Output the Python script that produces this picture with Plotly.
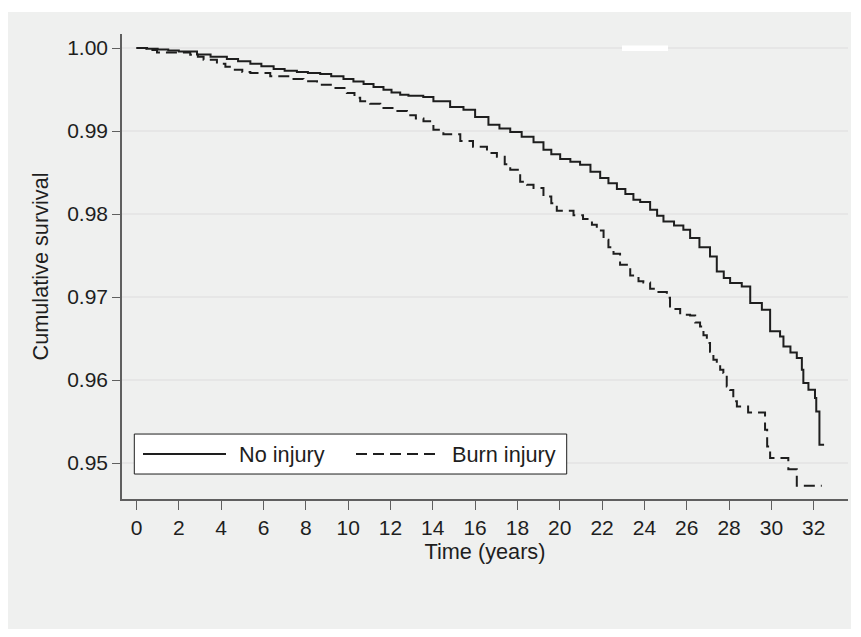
import plotly.graph_objects as go

# ---------------- data ----------------
time_no_injury = [0, 0.5, 1.0, 1.5, 2.0, 2.86, 3.5, 4.27, 4.8, 5.38, 5.9, 6.48, 7.0, 7.58, 8.1,
                  8.68, 9.2, 9.78, 10.25, 10.73, 11.2, 11.67, 12.05, 12.46, 12.85, 13.55, 14.03,
                  14.82, 15.45, 16.0, 16.63, 17.15, 17.66, 18.2, 18.76, 19.23, 19.6, 20.02, 20.5,
                  20.96, 21.45, 21.91, 22.3, 22.7, 23.1, 23.48, 23.8, 24.27, 24.6, 24.9, 25.4,
                  25.84, 26.16, 26.6, 27.1, 27.42, 27.75, 28.05, 28.6, 29.0, 29.55, 29.94, 30.41,
                  30.57, 30.9, 31.2, 31.44, 31.51, 31.75, 32.06, 32.12, 32.27, 32.49]
surv_no_injury = [1.0, 0.99992, 0.99982, 0.99970, 0.99958, 0.99922, 0.99895, 0.99867, 0.99840,
                  0.99811, 0.99780, 0.99747, 0.99725, 0.99711, 0.99700, 0.99687, 0.99660, 0.99627,
                  0.99597, 0.99566, 0.99530, 0.99498, 0.99465, 0.99437, 0.99425, 0.99410, 0.99357,
                  0.99289, 0.99257, 0.99170, 0.99076, 0.99030, 0.98988, 0.98930, 0.98863, 0.98775,
                  0.98720, 0.98663, 0.98630, 0.98594, 0.98510, 0.98434, 0.98370, 0.98300, 0.98240,
                  0.98172, 0.98145, 0.98052, 0.97980, 0.97911, 0.97860, 0.97811, 0.97711, 0.97600,
                  0.97489, 0.97308, 0.97230, 0.97169, 0.97128, 0.96928, 0.96847, 0.96586, 0.96525,
                  0.96405, 0.96330, 0.96265, 0.96124, 0.95964, 0.95883, 0.95783, 0.95622, 0.95221,
                  0.95221]

time_burn = [0, 0.45, 0.97, 2.54, 2.9, 3.17, 3.8, 4.2, 4.59, 5.0, 5.38, 6.32, 7.27, 7.89, 8.53,
             9.31, 9.94, 10.3, 10.57, 11.04, 11.52, 12.15, 12.78, 13.2, 13.56, 14.03, 14.5, 15.3,
             15.9, 16.56, 17.03, 17.4, 17.66, 18.13, 18.45, 18.76, 19.23, 19.6, 19.86, 20.65,
             21.1, 21.52, 21.75, 22.07, 22.3, 22.54, 22.85, 23.33, 23.72, 23.95, 24.27, 24.59,
             25.06, 25.21, 25.69, 26.16, 26.4, 26.63, 26.79, 26.95, 27.1, 27.26, 27.42, 27.58,
             27.73, 27.89, 28.05, 28.2, 28.37, 28.9, 29.70, 29.80, 29.94, 30.8, 31.2, 32.38]
surv_burn = [1.0, 0.99975, 0.99945, 0.99920, 0.99895, 0.99859, 0.99811, 0.99775, 0.99739,
             0.99712, 0.99699, 0.99660, 0.99627, 0.99598, 0.99558, 0.99518, 0.99458, 0.99400,
             0.99357, 0.99329, 0.99277, 0.99240, 0.99190, 0.99150, 0.99116, 0.99016, 0.98960,
             0.98880, 0.98810, 0.98735, 0.98690, 0.98600, 0.98534, 0.98390, 0.98353, 0.98313,
             0.98212, 0.98130, 0.98040, 0.97985, 0.97940, 0.97871, 0.97800, 0.97690, 0.97600,
             0.97520, 0.97390, 0.97260, 0.97190, 0.97176, 0.97100, 0.97060, 0.96990, 0.96855,
             0.96787, 0.96776, 0.96694, 0.96646, 0.96540, 0.96446, 0.96340, 0.96245, 0.96180,
             0.96124, 0.96084, 0.95923, 0.95880, 0.95743, 0.95682, 0.95609, 0.95400, 0.95200,
             0.95060, 0.94925, 0.94727, 0.94727]

x_ticks = list(range(0, 33, 2))
y_ticks = [0.95, 0.96, 0.97, 0.98, 0.99, 1.00]
series_names = ["No injury", "Burn injury"]
x_title = "Time (years)"
y_title = "Cumulative survival"

# ---------------- layout helpers ----------------
# The page body has an 8 px default margin, so the figure starts at (8, 8).
OFF = 8
W, H = 845, 621
PL, PT, PR, PB = 122, 34, 848, 499.3          # plot area in page pixels
L, T = PL - OFF, PT - OFF
PW, PH = PR - PL, PB - PT
R = W - L - PW
B = H - T - PH
FONT = "Liberation Sans, Arial, Helvetica, sans-serif"
INK = "#1e1e1e"
AXIS = "#5f5f5f"
TICK_SIZE = 21
TEXT_SIZE = 21.7


def px(x):
    """page x pixel -> paper x"""
    return (x - PL) / PW


def py(y):
    """page y pixel -> paper y"""
    return (PB - y) / PH


DASH = "11px,6px"

fig = go.Figure()
fig.add_trace(go.Scatter(x=time_no_injury, y=surv_no_injury, mode="lines", name=series_names[0],
                         line=dict(shape="hv", color=INK, width=2), showlegend=False))
fig.add_trace(go.Scatter(x=time_burn, y=surv_burn, mode="lines", name=series_names[1],
                         line=dict(shape="hv", color=INK, width=2, dash=DASH), showlegend=False))

shapes = [
    # grey outer panel
    dict(type="rect", xref="paper", yref="paper", x0=px(8), x1=px(851), y0=py(640), y1=py(12),
         fillcolor="#eff0ef", line=dict(width=0), layer="below"),
    # small gap in top gridline
    dict(type="rect", xref="paper", yref="paper", x0=px(622), x1=px(668), y0=py(51), y1=py(45.5),
         fillcolor="white", line=dict(width=0), layer="above"),
    # legend box
    dict(type="rect", xref="paper", yref="paper", x0=px(134.3), x1=px(566.7), y0=py(474.3),
         y1=py(434.3), fillcolor="white", line=dict(color=INK, width=1), layer="above"),
    dict(type="line", xref="paper", yref="paper", x0=px(143), x1=px(226), y0=py(454.3),
         y1=py(454.3), line=dict(color=INK, width=2), layer="above"),
    dict(type="line", xref="paper", yref="paper", x0=px(356), x1=px(439), y0=py(454.3),
         y1=py(454.3), line=dict(color=INK, width=2, dash=DASH), layer="above"),
]
annotations = [
    dict(xref="paper", yref="paper", x=px(237), y=py(454.3), text=series_names[0],
         xanchor="left", yanchor="middle", showarrow=False, font=dict(size=TEXT_SIZE, color=INK)),
    dict(xref="paper", yref="paper", x=px(450), y=py(454.3), text=series_names[1],
         xanchor="left", yanchor="middle", showarrow=False, font=dict(size=TEXT_SIZE, color=INK)),
]

fig.update_layout(
    width=W, height=H,
    margin=dict(l=L, r=R, t=T, b=B, pad=0),
    paper_bgcolor="white", plot_bgcolor="white",
    font=dict(family=FONT, size=TICK_SIZE, color=INK),
    shapes=shapes, annotations=annotations,
    showlegend=False,
)
fig.update_xaxes(
    range=[-0.685, 33.62], tickmode="array", tickvals=x_ticks,
    ticks="outside", ticklen=9, tickwidth=1.3, tickcolor=AXIS,
    showline=True, linecolor=AXIS, linewidth=1.5, showgrid=False, zeroline=False,
    title=dict(text=x_title, standoff=0, font=dict(size=TEXT_SIZE, color=INK)),
    tickfont=dict(size=TICK_SIZE, color=INK),
)
fig.update_yaxes(
    range=[0.945663, 1.001687], tickmode="array", tickvals=y_ticks, tickformat=".2f",
    ticks="outside", ticklen=8, tickwidth=1.3, tickcolor=AXIS,
    showline=True, linecolor=AXIS, linewidth=1.5, showgrid=True, gridcolor="#e6e6e6",
    gridwidth=1.6, zeroline=False,
    title=dict(text=y_title, standoff=13, font=dict(size=TEXT_SIZE, color=INK)),
    tickfont=dict(size=TICK_SIZE, color=INK),
)

fig.write_html("out.html")
